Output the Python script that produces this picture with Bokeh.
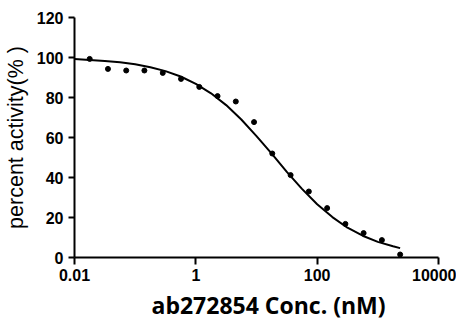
from bokeh.plotting import figure
from bokeh.models import Range1d, FixedTicker, Title
from bokeh.embed import file_html
from bokeh.resources import INLINE

# measured points (concentration in nM, percent activity)
conc = [0.0178, 0.0356, 0.0712, 0.142, 0.285, 0.57, 1.14, 2.28, 4.56, 9.11,
        18.2, 36.5, 72.9, 146, 292, 583, 1167, 2333]
activity = [99.3, 94.3, 93.5, 93.5, 92.3, 89.3, 85.3, 80.7, 78.0, 67.7,
            52.0, 41.2, 33.0, 24.7, 16.8, 12.2, 8.7, 1.5]

# fitted curve
curve_conc = [0.01, 0.0178, 0.0316, 0.0562, 0.1, 0.178, 0.316, 0.562, 1, 1.78,
              3.16, 5.62, 10, 17.8, 31.6, 56.2, 100, 178, 316, 562, 1000, 1780, 2330]
curve_act = [99.2, 98.8, 98.3, 97.6, 96.6, 95.1, 93.2, 90.5, 86.8, 82.1,
             76.2, 69.0, 60.7, 51.9, 42.8, 34.3, 26.6, 20.2, 14.9, 10.9, 7.8, 5.6, 4.7]

x_ticks = [0.01, 1, 100, 10000]
x_tick_labels = ["0.01", "1", "100", "10000"]
y_ticks = [0, 20, 40, 60, 80, 100, 120]

p = figure(frame_width=364, frame_height=240, x_axis_type="log",
           x_range=Range1d(0.01, 10000), y_range=Range1d(0, 120),
           output_backend="svg", toolbar_location=None,
           min_border_left=68, min_border_right=18, min_border_top=17,
           min_border_bottom=20)
p.outline_line_color = None
p.xgrid.visible = False
p.ygrid.visible = False

p.line(curve_conc, curve_act, line_color="black", line_width=2)
p.scatter(conc, activity, size=5, fill_color="black", line_color="black")

for ax in (p.xaxis[0], p.yaxis[0]):
    ax.axis_line_width = 2
    ax.axis_line_color = "black"
    ax.major_tick_line_width = 2
    ax.major_tick_line_color = "black"
    ax.minor_tick_line_color = None
    ax.major_tick_in = 0
    ax.major_label_text_font = "Liberation Sans"
    ax.major_label_text_font_style = "bold"
    ax.major_label_text_font_size = "16px"
    ax.major_label_text_color = "black"

p.xaxis[0].ticker = FixedTicker(ticks=x_ticks)
p.xaxis[0].major_label_overrides = {t: l for t, l in zip(x_ticks, x_tick_labels)}
p.xaxis[0].major_tick_out = 7
p.xaxis[0].major_label_standoff = 4

x_title = Title(text="ab272854 Conc. (nM)", align="left", offset=77,
                text_font="Open Sans", text_font_style="bold",
                text_font_size="23px", text_color="black", standoff=7)
p.add_layout(x_title, "below")

p.yaxis[0].ticker = FixedTicker(ticks=y_ticks)
p.yaxis[0].major_tick_out = 6
p.yaxis[0].major_label_standoff = 5
p.yaxis[0].axis_label = "percent activity(% )"
p.yaxis[0].axis_label_text_font = "Liberation Sans"
p.yaxis[0].axis_label_text_font_style = "normal"
p.yaxis[0].axis_label_text_font_size = "21.5px"
p.yaxis[0].axis_label_text_color = "black"
p.yaxis[0].axis_label_standoff = 6

open("out.html", "w").write(file_html(p, INLINE))
